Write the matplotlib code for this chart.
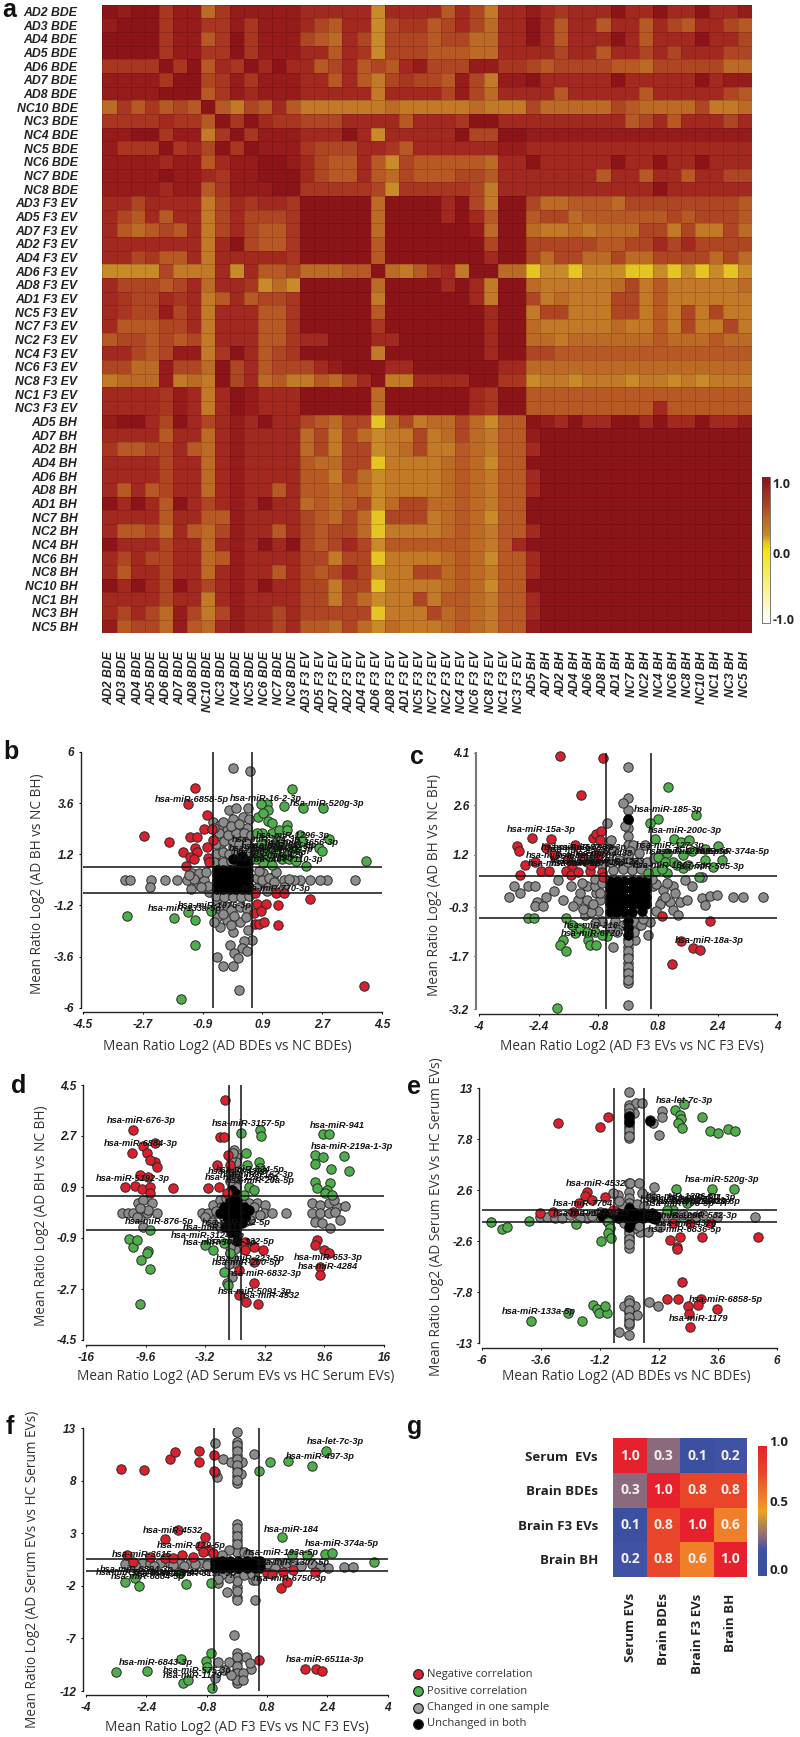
import numpy as np
import matplotlib
matplotlib.use("Agg")
import matplotlib.pyplot as plt
from matplotlib.colors import LinearSegmentedColormap

W, H = 800, 1737
LABEL_FONT = "Liberation Sans"
TEXT_FONT = "Open Sans"

# ---------- panel a: correlation levels read per cell (digit d => r = 0.1*d + 0.1), upper triangle
a_bde_labels = ["AD2 BDE","AD3 BDE","AD4 BDE","AD5 BDE","AD6 BDE","AD7 BDE","AD8 BDE","NC10 BDE","NC3 BDE","NC4 BDE","NC5 BDE","NC6 BDE","NC7 BDE","NC8 BDE"]
a_f3_labels = ["AD3 F3 EV","AD5 F3 EV","AD7 F3 EV","AD2 F3 EV","AD4 F3 EV","AD6 F3 EV","AD8 F3 EV","AD1 F3 EV","NC5 F3 EV","NC7 F3 EV","NC2 F3 EV","NC4 F3 EV","NC6 F3 EV","NC8 F3 EV","NC1 F3 EV","NC3 F3 EV"]
a_bh_labels = ["AD5 BH","AD7 BH","AD2 BH","AD4 BH","AD6 BH","AD8 BH","AD1 BH","NC7 BH","NC2 BH","NC4 BH","NC6 BH","NC8 BH","NC10 BH","NC1 BH","NC3 BH","NC5 BH"]
a_bde_rows = [
 "98996883688888"+"7777717"+"777475277"+"8767779779779778",
 "89996886686888"+"7547715"+"664575377"+"9747747747547754",
 "99996884696888"+"5437515"+"554553377"+"9747779747779775",
 "99996886696888"+"7747615"+"554443377"+"7757747757577755",
 "66669694769797"+"7457454"+"785558866"+"5455554435555533",
 "88886995686888"+"7747425"+"655485288"+"9777779777779788",
 "88887994687888"+"7777727"+"777585377"+"7747777747777754",
 "35364449425474"+"2222223"+"222223222"+"5333335433335223",
 "66667664969766"+"5557777"+"477769977"+"7777777457477757",
 "88996882696888"+"7779717"+"777795599"+"8888888888888888",
 "86669674969888"+"6555776"+"477777788"+"7777777777777777",
 "88887884788998"+"7544741"+"544444377"+"9777779779779777",
 "88889887788999"+"7544743"+"544455477"+"7777747747747755",
 "88887884688899"+"6666651"+"666665277"+"7777777779777777",
]
a_f3_rows = [
 "9999939"+"999795299"+"5334443555555554",
 "9999939"+"999797499"+"4553444444545554",
 "9999939"+"999998399"+"3223233355252253",
 "9999949"+"999999599"+"5555544557575555",
 "9999949"+"999999799"+"5355335335555353",
 "3333493"+"246729933"+"0110111001010101",
 "9999939"+"999797299"+"3222223524222223",
 "9999939"+"999997299"+"5232225524222222",
 "9999949"+"999999799"+"2552225524252522",
 "9999939"+"999999799"+"3222223224252252",
 "6669949"+"999999799"+"3323333334333433",
 "9799939"+"999999799"+"5544444444444444",
 "5577797"+"799997977"+"3333333333333333",
 "3444593"+"377659966"+"1221222122121222",
 "9999939"+"999997499"+"4444444444444444",
 "9999939"+"999997499"+"4444444447444444",
]
a_bh_rows = [
 "9879779979779778","8999999999999999","7999999999999999","9999999999999999",
 "7999999999999999","7999999999999999","9999999999999999","9999999999999999",
 "7999999999999999","9999999999999999","7999999999999999","7999999999999999",
 "9999999999999999","7999999999999999","7999999999999999","8999999999999999",
]

# ---------- panel b
b_red = [(-1.13,4.29),(-1.33,3.55),(-0.76,3.06),(-0.86,2.39),(-0.63,2.37),(-2.67,2.04),(-1.90,1.77),(-1.28,1.99),(-1.08,2.02),(-0.58,1.86),(-1.13,1.48),(-0.76,1.55),(-1.08,1.33),(-1.50,1.33),(-1.27,1.05),(-1.15,0.97),(-0.75,1.02),(-0.70,0.86),(-1.40,0.64),(0.68,-0.64),(0.73,-1.11),(1.0,-1.14),(1.37,-1.19),(2.34,-0.90),(0.66,-1.54),(0.85,-1.47),(0.68,-2.08),(0.81,-2.05),(0.96,-2.0),(1.37,-2.13),(3.97,-5.0),(1.30,-0.60),(1.54,-0.64)]
b_green = [(1.79,4.25),(2.11,3.39),(2.71,3.39),(1.56,3.47),(1.03,3.56),(0.86,3.56),(1.06,3.28),(0.78,2.94),(0.93,3.12),(1.08,2.78),(1.18,2.66),(0.88,2.19),(1.18,2.19),(1.41,2.34),(1.64,2.56),(1.64,2.34),(2.04,2.10),(2.91,1.91),(2.61,1.48),(2.70,1.36),(4.03,0.90),(2.21,0.64),(-3.19,-1.68),(-1.75,-1.78),(-1.33,-1.50),(-1.12,-1.9),(-1.13,-3.06),(-1.54,-5.6),(-0.66,-1.45),(1.0,1.6),(1.5,1.7),(0.93,0.77),(1.18,0.69),
 (0.7,1.0),(0.9,1.2),(1.1,1.1),(1.3,1.3),(1.5,1.0),(0.7,1.5),(0.85,1.7),(1.2,1.55),(1.4,1.8),(1.7,1.3),(1.9,1.5),(2.1,1.8),(0.75,2.2),(1.7,1.0),(1.9,0.9)]
b_gray = [(0.0,5.23),(0.53,5.12),(-0.1,3.28),(0.11,3.37),(0.48,3.36),(0.01,2.84),(0.33,2.96),(0.51,2.84),(-0.58,2.73),(-0.38,2.57),(-0.17,2.34),(0.23,2.34),(0.43,2.42),(-0.48,2.03),(-0.07,2.03),(0.33,1.95),(-0.38,1.56),(0.03,1.56),(-0.17,1.09),(-0.48,0.77),
 (-3.24,0.0),(-3.09,0.0),(-2.44,0.0),(-2.49,-0.32),(-2.04,0.0),(-1.68,0.0),(-1.38,0.0),(-1.23,0.30),(-1.08,-0.17),(-0.88,0.15),(3.70,0.0),(2.84,0.0),(2.64,0.0),(2.34,0.0),(2.04,0.0),(1.84,0.0),(1.54,0.0),(1.23,0.15),(0.93,0.30),(1.03,-0.32),(1.54,-0.32),(0.83,-0.17),(-1.26,-0.45),(-0.7,-0.56),
 (-0.48,-0.95),(-0.17,-1.26),(0.23,-1.26),(-0.48,-1.73),(-0.17,-1.89),(0.23,-1.97),(-0.38,-2.2),(0.03,-2.44),(0.48,-2.36),(0.58,-2.8),(0.36,-2.86),(-0.07,-3.06),(0.28,-3.22),(0.06,-3.45),(0.43,-3.33),(0.16,-3.69),(-0.46,-3.64),(-0.3,-4.02),(0.0,-4.05),(0.19,-5.17),
 (-0.5,1.2),(-0.3,1.3),(-0.1,1.2),(0.1,1.3),(0.3,1.2),(0.5,1.3),(-0.5,1.7),(-0.25,1.8),(0.0,1.8),(0.2,1.7),(0.45,1.7),(-0.4,2.2),(-0.15,2.1),(0.1,2.2),(0.35,2.2),(0.55,2.1),(-0.55,2.45),(-0.3,2.7),(-0.05,2.55),(0.2,2.6),(-0.55,0.85),(-0.3,0.85),(-0.05,0.9),(0.2,0.85),(0.45,0.85),
 (-0.85,0.0),(-1.0,0.3),(-1.15,0.05),(-0.75,-0.3),(-1.3,0.25),(-0.95,-0.35),(-0.8,0.35),(0.75,0.1),(0.9,0.0),(1.1,0.1),(1.25,-0.1),(0.7,-0.4),(1.3,0.35),(1.7,0.05),(1.05,-0.5),(0.8,0.4),(1.45,-0.5),
 (-0.5,-0.75),(-0.25,-0.8),(0.0,-0.8),(0.25,-0.8),(0.5,-0.75),(-0.45,-1.3),(-0.05,-1.4),(0.45,-1.35),(-0.3,-1.6),(0.05,-1.7),(0.4,-1.75),(-0.55,-2.0),(-0.05,-2.1)]
b_black = [(-0.47,0.45),(-0.28,0.45),(-0.09,0.45),(0.09,0.45),(0.28,0.45),(0.47,0.45),(-0.47,0.22),(-0.28,0.22),(-0.09,0.22),(0.09,0.22),(0.28,0.22),(0.47,0.22),(-0.47,0.0),(-0.28,0.0),(-0.09,0.0),(0.09,0.0),(0.28,0.0),(0.47,0.0),(-0.47,-0.22),(-0.28,-0.22),(-0.09,-0.22),(0.09,-0.22),(0.28,-0.22),(0.47,-0.22),(-0.47,-0.45),(-0.28,-0.45),(-0.09,-0.45),(0.09,-0.45),(0.28,-0.45),(0.47,-0.45),(0.0,1.0),(0.3,1.1),(0.5,0.9),(0.25,0.75),(0.45,0.7)]
b_xticks = [-4.5,-2.7,-0.9,0.9,2.7,4.5]
b_yticks = [6,3.6,1.2,-1.2,-3.6,-6]

# ---------- panel c
c_red = [(-1.83,4.0),(-0.67,3.96),(-1.27,2.89),(-2.59,1.68),(-2.07,1.65),(-2.98,1.45),(-2.94,1.29),(-2.77,0.91),(-2.90,0.63),(-2.21,1.38),(-1.43,1.47),(-0.95,1.66),(-0.85,1.78),(-0.73,1.87),(-0.76,1.62),(-2.34,0.74),(-2.12,0.72),(-1.67,0.72),(-1.52,0.62),(-1.34,0.69),(-1.02,0.72),(-0.69,0.69),(-0.67,0.57),(0.92,-0.56),(2.2,-0.69),(1.43,-1.25),(1.73,-1.47),(1.92,-1.51),(1.17,-1.91),
 (-2.5,1.0),(-2.0,1.2),(-1.6,1.1),(-1.2,1.1),(-1.0,0.9),(-0.8,1.2),(-1.5,0.9)]
c_green = [(1.07,3.11),(1.82,2.33),(0.81,2.21),(0.58,2.09),(0.72,1.65),(1.24,1.64),(1.43,1.55),(1.62,1.6),(2.40,1.43),(2.07,1.35),(0.81,1.14),(1.03,1.24),(1.48,1.19),(2.06,1.03),(2.51,1.03),(2.28,0.84),(1.48,0.81),(1.03,0.67),(0.76,0.72),(0.54,0.67),(1.91,0.57),(-2.68,-0.61),(-2.52,-0.62),(-1.68,-0.61),(-1.43,-1.04),(-1.74,-1.23),(-1.83,-1.37),(-1.67,-1.56),(-1.07,-1.23),(-1.02,-1.37),(-0.85,-1.37),(-0.58,-1.13),(-1.9,-3.17),
 (1.2,1.0),(1.0,1.0),(1.7,1.3),(1.3,0.9),(0.9,0.8),(1.6,0.9),(-1.3,-0.9),(-1.5,-0.8),(-0.9,-1.0),(-0.7,-1.1),(-1.1,-1.0)]
c_gray = [(-0.01,3.70),(-0.01,2.80),(-0.01,2.47),(-0.01,2.19),(-0.01,1.95),(-0.01,1.72),(-0.01,1.47),(-0.01,-1.42),(-0.01,-1.66),(-0.01,-1.9),(-0.01,-2.08),(-0.01,-2.27),(-0.01,-2.46),(-0.01,-3.1),
 (-0.13,2.66),(-0.58,2.09),(-0.09,2.0),(-0.47,1.6),(0.45,1.47),(0.14,1.47),(-0.4,1.33),
 (-3.06,0.29),(-3.2,0.0),(-2.9,0.1),(-2.68,0.29),(-2.5,0.29),(-2.45,-0.14),(-2.5,-0.28),(-2.28,-0.28),(-2.19,0.0),(-2.0,0.17),(-1.74,-0.09),(-1.87,0.48),(-1.52,0.29),(-1.34,-0.09),(-1.47,-0.28),(-1.11,0.29),(-0.98,-0.28),(-0.85,0.1),(-1.16,-0.52),(-0.4,-1.44),(0.25,-0.85),(0.54,-1.08),(0.18,-1.23),(0.67,0.29),(0.94,0.19),(1.21,0.29),(1.52,0.48),(1.7,0.29),(1.97,0.57),(0.9,-0.09),(1.12,-0.14),(1.39,-0.14),(1.57,-0.09),(1.97,-0.04),(2.06,-0.23),(2.19,0.03),(2.37,0.05),(2.8,0.0),(3.07,0.0),(3.62,0.0),(1.21,-0.37),(1.34,-0.52),(0.58,-0.71),
 (-0.9,0.3),(-1.1,-0.1),(-0.8,-0.4),(-1.0,-0.45),(-0.75,-0.1),(-1.25,0.4),(-0.9,0.5),(-0.7,0.4),(-1.3,0.1),(-1.2,-0.35),(-0.75,0.1),(-0.95,-0.2),(0.75,0.35),(0.85,-0.2),(1.0,0.0),(0.75,-0.4),(1.25,0.1),(1.05,0.4),(0.65,0.5),
 (-0.4,0.75),(-0.15,0.8),(0.1,0.75),(0.35,0.8),(-0.5,1.0),(-0.25,1.05),(0.0,1.1),(0.25,1.0),(0.5,1.0),(-0.4,1.3),(0.05,1.3),(0.3,1.25),(-0.9,1.2),(-0.7,0.9),(-1.1,1.0),(0.7,1.1),(0.9,0.9),
 (-0.35,-0.7),(-0.15,-0.8),(0.15,-0.7),(0.35,-0.8),(-0.3,-1.0),(0.15,-1.0),(-0.5,-0.9),(-0.7,-0.7),(-0.9,-0.75),(0.4,-0.65),
 (-0.01,1.2),(-0.01,1.0),(-0.01,-1.2),(-0.01,-1.3),(-0.01,-1.55),(-0.01,-1.75),(-0.01,-2.0),(-0.01,-2.17),(-0.01,-2.37)]
c_black = [(-0.49,0.45),(-0.3,0.45),(-0.1,0.45),(0.1,0.45),(0.3,0.45),(0.47,0.45),(-0.49,0.22),(-0.3,0.22),(-0.1,0.22),(0.1,0.22),(0.3,0.22),(0.47,0.22),(-0.49,0.0),(-0.3,0.0),(-0.1,0.0),(0.1,0.0),(0.3,0.0),(0.47,0.0),(-0.49,-0.22),(-0.3,-0.22),(-0.1,-0.22),(0.1,-0.22),(0.3,-0.22),(0.47,-0.22),(-0.49,-0.45),(-0.3,-0.45),(-0.1,-0.45),(0.1,-0.45),(0.37,-0.42),(0.0,2.2),(-0.01,-0.7),(-0.01,-0.9),(-0.01,-1.1)]
c_xticks = [-4,-2.4,-0.8,0.8,2.4,4]
c_yticks = [4.1,2.6,1.2,-0.3,-1.7,-3.2]

# ---------- panel d
d_red = [(-10.91,2.91),(-11.09,2.11),(-9.84,2.35),(-8.58,2.46),(-9.48,2.09),(-8.58,1.79),(-8.4,1.62),(-9.12,1.85),(-10.19,1.32),(-9.3,1.26),(-11.81,0.89),(-10.73,0.94),(-10.01,0.83),(-9.12,0.91),(-6.68,0.88),(-9.12,0.68),(-2.85,0.85),(-1.77,0.91),(-1.05,3.97),(-1.59,2.68),(-1.16,2.65),(-0.7,2.03),(-1.95,1.68),(-0.52,1.68),(-0.87,0.68),(8.8,-0.97),(8.62,-1.15),(9.52,-1.32),(10.06,-1.44),(9.16,-1.91),(9.16,-2.21),(1.1,-1.03),(1.99,-1.21),(1.1,-1.32),(2.96,-1.32),(1.99,-1.74),(0.38,-2.03),(1.99,-2.48),(0.38,-2.91),(1.2,-3.15),(2.46,-3.23)]
d_green = [(9.45,2.76),(10.13,2.76),(11.67,2.01),(8.62,2.03),(9.45,1.95),(8.62,1.71),(10.31,1.54),(12.21,1.46),(8.62,1.06),(10.16,1.03),(8.8,0.85),(9.88,0.79),(9.7,0.68),(10.42,0.62),(-9.12,-0.62),(-11.38,-0.95),(-10.91,-1.21),(-10.48,-0.97),(-9.3,-1.36),(-9.41,-1.42),(-10.12,-1.68),(-9.12,-1.99),(-10.19,-3.24),(0.67,2.82),(2.71,2.91),(2.78,2.7),(1.2,2.11),(2.53,1.79),(2.71,1.56),(1.28,1.68),(1.46,0.91),(1.99,0.79),(0.92,0.62),(-3.2,-1.15),(-2.31,-1.32),(-1.23,-1.09),(-0.52,-1.44),(-1.23,-2.11),(-0.8,-2.56)]
d_gray = [(-12.16,0.0),(-11.45,0.0),(-10.91,-0.03),(-10.37,0.32),(-9.84,0.44),(-8.94,0.32),(-10.19,-0.15),(-9.48,0.0),(-8.4,0.0),(-9.84,-0.5),(-10.55,-0.15),(-9.3,0.08),(-10.19,0.15),
 (8.27,0.32),(9.16,0.26),(10.06,0.32),(10.95,0.21),(11.78,0.24),(8.27,0.0),(9.16,0.0),(10.06,0.0),(10.77,0.03),(8.62,-0.32),(9.34,-0.38),(10.24,-0.56),(11.31,-0.26),(10.6,0.44),
 (-3.56,0.0),(-2.85,0.0),(-2.31,0.26),(-1.95,-0.03),(-3.2,-0.15),(-2.31,-0.38),(-1.59,0.44),(-0.16,2.21),(0.2,1.97),(-0.34,1.5),(0.2,1.15),(-0.52,0.68),(0.56,0.44),(1.46,0.32),(2.35,0.32),(3.25,0.26),(3.07,0.0),(3.96,0.0),(1.99,0.0),(5.51,0.0),(1.63,-0.26),(0.2,-0.97),(-0.52,-1.44),(0.02,-1.79),(-0.34,-2.26),(-0.87,-2.5),(-0.16,-0.5),(-1.59,-0.5),
 (-1.5,0.2),(-1.2,-0.2),(-0.8,0.3),(-0.5,-0.3),(-0.3,0.1),(0.1,0.3),(0.5,-0.1),(0.8,0.3),(1.2,-0.3),(2.0,0.2),(2.7,-0.1),(-0.3,0.9),(-0.2,1.2),(0.1,0.9),(-0.5,1.1),(-0.1,1.6),(0.1,1.8),(-0.4,1.9),(-0.2,2.1),(0.1,-0.8),(-0.3,-1.0),(0.0,-1.3),(-0.5,-1.2),(-0.2,-1.6),(-0.6,-1.8),(-2.5,-0.35),(-2.0,0.05),(-1.0,0.5),(0.4,0.6)]
d_black = [(-1.23,0.21),(-0.52,0.44),(0.2,0.44),(0.92,0.21),(1.46,0.09),(-0.87,-0.15),(-0.16,0.09),(0.56,-0.15),(1.1,-0.15),(-0.52,-0.38),(0.02,-0.5),(0.38,0.21),(-0.16,0.5),(-1.59,-0.03),(-1.05,-0.5),(0.74,-0.38),(-0.3,0.2),(0.1,-0.2),
 (-0.5,0.0),(0.2,0.0),(0.5,0.2),(-0.2,-0.3),(-0.8,0.1),(0.0,0.7),(-0.3,0.8),(0.3,-0.4),(0.0,-0.7),(-0.4,-0.7),(0.2,-1.0)]
d_xticks = [-16,-9.6,-3.2,3.2,9.6,16]
d_yticks = [4.5,2.7,0.9,-0.9,-2.7,-4.5]

# ---------- panel e
e_red = [(-2.88,9.5),(-1.17,9.06),(-0.87,10.08),(-1.73,2.46),(-1.8,2.02),(-0.98,1.95),(-1.5,1.61),(-2.04,1.27),(-3.63,0.32),(-3.08,0.36),(-2.27,0.36),(-0.64,0.59),(1.66,-2.47),(2.07,-2.19),(1.93,-3.15),(1.96,-3.38),(2.96,-2.13),(5.23,-2.13),(2.16,-6.71),(1.53,-8.48),(2.0,-8.48),(2.92,-8.48),(2.38,-9.2),(2.81,-9.09),(3.57,-9.47),(2.45,-10.01),(2.49,-11.3),(2.47,-0.77),(3.29,-0.77),(1.8,-0.77)]
e_green = [(1.88,10.79),(2.23,11.37),(2.07,10.28),(2.09,9.87),(1.97,9.43),(2.14,8.92),(2.95,10.08),(3.3,8.65),(3.61,8.48),(4.01,8.89),(4.31,8.62),(1.89,2.7),(3.38,2.7),(4.25,2.7),(2.34,1.27),(1.8,0.59),(1.53,0.59),(-5.63,-0.6),(-5.19,-1.34),(-4.98,-1.11),(-4.06,-0.49),(-2.18,-0.87),(-0.85,-0.6),(-0.78,-1.28),(-0.85,-1.79),(-0.75,-2.3),(-1.16,-2.6),(-1.46,-9.09),(-1.32,-9.5),(-1.21,-9.94),(-0.92,-9.88),(-0.98,-9.2),(-1.93,-10.73),(-4.0,-10.73),(-2.47,-9.88)]
e_gray = [(-0.01,12.66),(-0.01,11.3),(-0.01,10.79),(-0.01,10.28),(-0.01,9.77),(-0.01,9.09),(-0.01,8.41),(-0.01,7.9),(-0.01,3.31),(-0.01,2.46),(-0.01,1.78),(-0.01,-1.45),(-0.01,-2.13),(-0.01,-2.64),(-0.01,-3.32),(-0.01,-8.58),(-0.01,-9.26),(-0.01,-9.94),(-0.01,-10.62),(-0.01,-11.13),
 (0.28,11.47),(0.51,11.54),(0.18,10.45),(0.85,9.77),(0.98,9.43),(1.32,10.69),(1.35,10.04),(1.23,8.24),(-0.4,-11.81),(-0.01,-12.15),(-0.21,-9.16),(0.24,-9.2),(0.31,-10.11),(0.81,-8.82),(1.19,-9.2),(0.03,3.31),(0.41,3.31),(0.51,2.29),(1.02,2.94),(-0.44,2.12),(-3.63,-0.15),(-3.36,-0.09),(-3.02,-0.19),(-2.72,-0.19),(-2.41,0.08),(-1.73,-0.26),(-1.19,-0.09),(1.25,-0.09),(2.2,-0.09),(3.56,-0.09),(5.13,-0.09),(0.44,-1.62),(0.78,-1.62),(0.24,-1.28),(1.25,-1.11),(-0.64,2.29),(0.92,1.95),
 (-1.0,0.1),(-1.5,0.0),(-2.0,-0.2),(-0.9,-0.5),(-1.2,0.4),(1.0,0.0),(1.2,-0.4),(1.5,0.1),(1.8,-0.3),(2.2,0.2),(2.7,-0.1),(3.0,0.1),(0.0,1.3),(0.0,0.9),(0.3,1.2),(-0.3,1.1),(-0.4,1.5),(0.6,1.0),(0.0,-0.9),(0.2,-0.8),(-0.2,-0.7),(0.4,-1.0),(-0.01,-1.8),(-0.01,-2.4),(-0.01,-2.9),
 (-0.01,11.0),(-0.01,10.5),(-0.01,10.0),(-0.01,9.4),(-0.01,8.7),(-0.01,8.1),(-0.01,-8.9),(-0.01,-9.6),(-0.01,-10.3),(-0.01,-10.9)]
e_black = [(-0.78,0.32),(-0.44,0.32),(-0.1,0.32),(0.24,0.32),(0.58,0.32),(0.92,0.32),(-0.78,-0.26),(-0.44,-0.26),(-0.1,-0.26),(0.24,-0.26),(0.58,-0.26),(0.92,-0.26),(-0.01,-1.1),(-0.01,10.2),(-0.01,9.6),(0.85,9.7),
 (-0.6,0.0),(-0.3,0.0),(0.0,0.0),(0.3,0.0),(0.6,0.0),(0.9,0.0),(-1.1,0.0),(1.1,0.0),(-1.0,0.3),(1.05,-0.3),(-0.01,0.8),(0.02,-0.7)]
e_xticks = [-6,-3.6,-1.2,1.2,3.6,6]
e_yticks = [13,7.8,2.6,-2.6,-7.8,-13]

# ---------- panel f
f_red = [(-3.07,9.13),(-2.45,9.0),(-1.76,10.11),(-1.65,10.72),(-1.0,10.87),(-1.01,9.8),(-0.6,10.46),(-0.61,8.97),(-1.55,3.32),(-1.91,2.5),(-0.84,2.69),(-0.98,1.83),(-0.76,1.42),(-0.89,1.26),(-0.62,1.1),(-1.46,0.94),(-2.92,0.94),(-2.76,0.31),(-2.3,0.79),(-1.15,0.79),(-1.9,0.63),(-1.68,0.63),(0.6,-9.05),(1.82,-9.87),(2.09,-9.87),(2.27,-10.06),(1.17,-2.23),(0.79,-0.8),(0.92,-0.86),(1.23,-0.64),(1.32,-1.59),(1.5,-0.48),(2.07,-0.64)]
f_green = [(2.37,10.84),(1.98,9.42),(1.35,9.92),(0.87,9.83),(0.58,8.97),(1.2,2.63),(2.34,1.01),(2.53,1.1),(3.63,0.28),(1.85,0.94),(1.46,0.94),(-2.97,-1.59),(-2.7,-1.28),(-2.59,-1.97),(-1.35,-1.82),(-0.69,-1.69),(-1.51,-0.8),(-3.2,-10.22),(-2.38,-10.1),(-1.48,-8.92),(-0.83,-9.11),(-0.69,-8.42),(-1.42,-11.27),(-1.29,-10.95),(-0.67,-11.75),(-0.8,-9.68)]
f_gray = [(0.0,12.68),(0.0,11.73),(0.0,11.1),(0.0,10.46),(0.0,9.83),(0.0,9.19),(0.0,8.46),(0.0,7.83),(0.0,3.89),(0.0,3.16),(0.0,2.37),(0.0,1.74),(0.0,1.26),(0.0,-1.12),(0.0,-2.07),(0.0,-3.02),(0.0,-3.34),(0.0,-8.42),(0.0,-9.21),(0.0,-10.0),(0.0,-10.64),(0.0,-11.27),
 (-0.57,11.57),(-0.38,10.11),(-0.16,9.76),(0.13,9.76),(0.46,10.56),(-0.52,8.34),(-0.58,8.88),(0.11,8.65),(-0.07,-6.67),(-0.49,-9.21),(-0.2,-9.21),(0.24,-8.8),(0.37,-9.94),(-0.58,-10.79),(-0.27,-2.55),(-0.49,-1.75),(0.48,-3.34),(-2.97,0.09),(-2.52,0.15),(-2.3,0.15),(-2.04,0.15),(-1.77,0.15),(-1.51,0.15),(-1.24,0.15),(-0.98,0.15),(-0.76,0.15),(2.43,-0.32),(2.83,-0.17),(3.07,-0.17),(0.66,0.15),(1.06,0.15),(1.5,-0.01),(0.44,-1.44),
 (0.0,11.4),(0.0,10.8),(0.0,10.1),(0.0,9.5),(0.0,8.8),(0.0,8.1),(0.0,3.5),(0.0,2.75),(0.0,2.0),(0.0,-1.5),(0.0,-2.5),(0.0,-8.8),(0.0,-9.6),(0.0,-10.3),(0.0,-11.0),
 (-0.8,0.0),(-1.1,0.1),(-1.4,-0.1),(-1.7,-0.05),(-2.2,-0.1),(-2.7,0.0),(0.8,0.1),(1.0,-0.3),(1.3,0.2),(1.7,-0.1),(2.0,0.1),(2.2,-0.2),(0.2,-1.0),(-0.2,-1.2),(-0.4,-0.9),(0.4,-0.9),(0.2,1.2),(-0.2,1.4),(0.3,1.0),(-0.4,0.9),(0.5,-1.4),(-0.5,-1.3),(0.35,-9.3),(-0.35,-10.0),(0.17,-10.3),(0.17,-11.0),(-0.15,-10.5)]
f_black = [(-0.58,0.4),(-0.4,0.4),(-0.18,0.4),(0.04,0.4),(0.26,0.4),(0.48,0.4),(0.61,0.4),(-0.58,-0.26),(-0.4,-0.26),(-0.18,-0.26),(0.04,-0.26),(0.26,-0.26),(0.48,-0.26),(0.61,-0.26),
 (-0.58,0.07),(-0.4,0.07),(-0.18,0.07),(0.04,0.07),(0.26,0.07),(0.48,0.07),(0.61,0.07)]
f_xticks = [-4,-2.4,-0.8,0.8,2.4,4]
f_yticks = [13,8,3,-2,-7,-12]

# ---------- panel g
g_labels_y = ["Serum  EVs","Brain BDEs","Brain F3 EVs","Brain BH"]
g_labels_x = ["Serum EVs","Brain BDEs","Brain F3 EVs","Brain BH"]
g_values = [[1.0,0.3,0.1,0.2],[0.3,1.0,0.8,0.8],[0.1,0.8,1.0,0.6],[0.2,0.8,0.6,1.0]]

legend_labels = ["Negative correlation","Positive correlation","Changed in one sample","Unchanged in both"]

RED, GREEN, GRAY = "#d9202c", "#4fae4b", "#8c8c8c"
plt.rcParams["font.family"] = [TEXT_FONT, "DejaVu Sans"]
fig = plt.figure(figsize=(W/100, H/100), dpi=100)

def px_axes(l, r, t, b, **kw):
    return fig.add_axes([l/W, 1-b/H, (r-l)/W, (b-t)/H], **kw)

overlay = fig.add_axes([0, 0, 1, 1], zorder=10)
overlay.set_xlim(0, W); overlay.set_ylim(H, 0); overlay.axis("off")

# ---- panel a
labels_a = a_bde_labels + a_f3_labels + a_bh_labels
n = len(labels_a)
mat = np.ones((n, n))
for rows, first in ((a_bde_rows, 0), (a_f3_rows, 14), (a_bh_rows, 30)):
    for k, s in enumerate(rows):
        i = first + k
        for c, ch in enumerate(s):
            j = first + c
            if j >= i:
                v = 0.1*int(ch) + 0.1
                mat[i, j] = v
                mat[j, i] = v
for i in range(n):
    mat[i, i] = 1.0

cmap_a = LinearSegmentedColormap.from_list("a", [
    (0.0, "#ffffff"), (0.5, "#f2e312"), (0.55, "#e4c424"), (0.6, "#c98a2a"), (0.65, "#c27a29"),
    (0.7, "#bc6c27"), (0.75, "#b65a25"), (0.8, "#ae4523"), (0.85, "#a83621"), (0.9, "#a22a20"),
    (0.95, "#971c1c"), (1.0, "#8b1419")], N=256)
ax = px_axes(102.5, 751.7, 4.7, 633.3)
mesh = ax.pcolormesh(np.arange(n+1), np.arange(n+1), mat, cmap=cmap_a, vmin=-1, vmax=1,
                     edgecolors=(0.25, 0, 0, 0.18), linewidth=0.4)
ax.set_ylim(n, 0); ax.set_xlim(0, n)
ax.set_xticks(np.arange(n)+0.5, labels_a, rotation=90, family=LABEL_FONT, weight="bold", style="italic", fontsize=8.8, color="#222222")
ax.set_yticks(np.arange(n)+0.5, labels_a, family=LABEL_FONT, weight="bold", style="italic", fontsize=8.8, color="#222222")
ax.tick_params(axis="x", length=0, pad=13)
ax.tick_params(axis="y", length=0, pad=18)
for sp in ax.spines.values():
    sp.set_visible(False)
cax = px_axes(762, 770, 477, 623)
cb = fig.colorbar(mesh, cax=cax)
cb.set_ticks([]); cb.outline.set_linewidth(0.5); cb.outline.set_edgecolor("#444444")
for t, y in (("1.0", 485), ("0.0", 555), ("-1.0", 621)):
    overlay.text(772.5, y, t, fontsize=9, weight="bold", color="#222222", va="center", ha="left")

# ---- scatter panels
def scatter_panel(l, r, t, b, left_off, bot_off, xr, yr, xticks, yticks, gray, black, red, green, thrx, thry, left_color="#222222", left_w=1.0):
    ax = px_axes(l, r, t, b)
    ax.set_xlim(*xr); ax.set_ylim(*yr)
    ax.patch.set_alpha(0)
    for sp in ("top", "right"):
        ax.spines[sp].set_visible(False)
    ax.spines["left"].set_position(("outward", left_off*0.72))
    ax.spines["bottom"].set_position(("outward", bot_off*0.72))
    ax.spines["left"].set_color(left_color); ax.spines["left"].set_linewidth(left_w)
    ax.spines["bottom"].set_color("#222222"); ax.spines["bottom"].set_linewidth(1.0)
    ax.set_xticks(xticks, [f"{v:g}" for v in xticks], family=LABEL_FONT, weight="bold", style="italic", fontsize=8.5, color="#222222")
    ax.set_yticks(yticks, [f"{v:g}" for v in yticks], family=LABEL_FONT, weight="bold", style="italic", fontsize=8.5, color="#222222")
    ax.tick_params(axis="both", length=1.5, width=0.7, pad=3.5)
    for pts, col, edge, z in ((gray, GRAY, "#2a2a2a", 2), (black, "black", "black", 3), (red, RED, "#2a2a2a", 4), (green, GREEN, "#2a2a2a", 4)):
        arr = np.array(pts)
        ax.scatter(arr[:, 0], arr[:, 1], s=46, c=col, edgecolors=edge, linewidths=0.7, zorder=z, clip_on=False)
    for v in thrx:
        ax.axvline(v, color="#111111", lw=1.1, zorder=5)
    for v in thry:
        ax.axhline(v, color="#111111", lw=1.1, zorder=5)
    return ax

scatter_panel(83, 382, 752, 1007.7, 2, 4, (-4.5, 4.5), (-6, 6), b_xticks, b_yticks, b_gray, b_black, b_red, b_green, (-0.6, 0.6), (0.6, -0.6))
scatter_panel(479, 777.3, 752.7, 1009, 3, 4.7, (-4, 4), (-3.2, 4.1), c_xticks, c_yticks, c_gray, c_black, c_red, c_green, (-0.6, 0.6), (0.6, -0.6), left_color="#777777", left_w=1.5)
scatter_panel(86, 384, 1085, 1340, 2.7, 4.7, (-16, 16), (-4.5, 4.5), d_xticks, d_yticks, d_gray, d_black, d_red, d_green, (-0.6, 0.6), (0.6, -0.6))
scatter_panel(481.7, 776.7, 1088.3, 1343.3, 2.4, 5, (-6, 6), (-13, 13), e_xticks, e_yticks, e_gray, e_black, e_red, e_green, (-0.6, 0.6), (0.6, -0.6))
scatter_panel(86, 387.7, 1428.3, 1691, 3, 4, (-4, 4), (-12, 13), f_xticks, f_yticks, f_gray, f_black, f_red, f_green, (-0.6, 0.6), (0.6, -0.6))

# ---- miRNA labels, placed by crop position relative to each panel's corner
def mir(ox, oy, items):
    for cx, cy, s in items:
        overlay.text(ox + cx/3, oy + cy/3, s, family=LABEL_FONT, weight="bold", style="italic",
                     fontsize=6.7, color="#111111", ha="center", va="center")

mir(0, 730, [(576,207,"hsa-miR-6858-5p"),(797,205,"hsa-miR-16-2-3p"),(980,219,"hsa-miR-520g-3p"),
             (880,318,"hsa-miR-1296-3p"),(905,337,"hsa-miR-3656-3p"),(835,350,"hsa-miR-200c-3p"),(810,368,"hsa-miR-4326-3p"),
             (860,388,"hsa-miR-7110-3p"),(830,475,"hsa-miR-770-3p"),(555,535,"hsa-miR-133a-5p"),(645,528,"hsa-miR-1976-3p"),
             (800,330,"hsa-miR-204-3p"),(850,345,"hsa-miR-511-3p"),(790,355,"hsa-miR-708-3p"),(830,378,"hsa-miR-429"),
             (845,360,"hsa-miR-31-3p"),(790,385,"hsa-miR-1290")])
mir(400, 730, [(805,240,"hsa-miR-185-3p"),(855,302,"hsa-miR-200c-3p"),(425,298,"hsa-miR-15a-3p"),
               (1000,365,"hsa-miR-374a-5p"),(850,365,"hsa-miR-1296-5p"),(880,365,"hsa-miR-3656-3p"),(810,345,"hsa-miR-127-3p"),
               (930,410,"hsa-miR-505-3p"),(810,405,"hsa-miR-1307-5p"),(927,632,"hsa-miR-18a-3p"),
               (535,352,"hsa-miR-3687-3p"),(490,378,"hsa-miR-4532-3p"),(495,402,"hsa-miR-6848-3p"),(610,398,"hsa-miR-7150-3p"),(565,400,"hsa-miR-1275-3p"),(570,352,"hsa-miR-3960-3p"),
               (530,360,"hsa-miR-4508"),(560,378,"hsa-miR-6087"),(610,372,"hsa-miR-4488"),(540,392,"hsa-miR-1246"),(645,395,"hsa-miR-1273"),
               (595,585,"hsa-miR-218-3p"),(595,612,"hsa-miR-6720-3p")])
mir(0, 1040, [(425,242,"hsa-miR-676-3p"),(423,310,"hsa-miR-6884-3p"),(400,416,"hsa-miR-5192-3p"),(478,543,"hsa-miR-876-5p"),
              (747,251,"hsa-miR-3157-5p"),(1013,255,"hsa-miR-941"),(1057,320,"hsa-miR-219a-1-3p"),(986,652,"hsa-miR-653-3p"),
              (985,680,"hsa-miR-4284"),(795,702,"hsa-miR-6832-3p"),(765,755,"hsa-miR-5091-3p"),(810,766,"hsa-miR-4532"),
              (752,655,"hsa-miR-223-5p"),(740,667,"hsa-miR-200-5p"),(750,390,"hsa-miR-324-5p"),(770,404,"hsa-miR-7162-3p"),
              (780,422,"hsa-miR-20a-5p"),(720,605,"hsa-miR-132-5p"),(710,548,"hsa-miR-652-5p"),(640,562,"hsa-miR-3615"),(625,585,"hsa-miR-3124-5p"),
              (715,395,"hsa-miR-4328"),(725,412,"hsa-miR-1285-5p"),(660,608,"hsa-miR-5010-3p")])
mir(400, 1040, [(853,182,"hsa-let-7c-3p"),(965,420,"hsa-miR-520g-3p"),(588,430,"hsa-miR-4532"),(550,491,"hsa-miR-7704"),
                (418,816,"hsa-miR-133a-5p"),(978,778,"hsa-miR-6858-5p"),(895,835,"hsa-miR-1179"),(850,470,"hsa-miR-1296-5p"),
                (870,485,"hsa-miR-3156-3p"),(885,483,"hsa-miR-7110-3p"),(910,525,"hsa-miR-532-3p"),(855,568,"hsa-miR-6836-5p"),
                (600,520,"hsa-miR-3615"),(830,478,"hsa-miR-200c-3p"),(905,473,"hsa-miR-511-3p"),(840,490,"hsa-miR-708-3p"),(920,485,"hsa-miR-429-3p"),
                (820,525,"hsa-miR-1290"),(860,550,"hsa-miR-4326"),(550,520,"hsa-miR-1273")])
mir(0, 1400, [(1005,124,"hsa-let-7c-3p"),(962,170,"hsa-miR-497-3p"),(873,387,"hsa-miR-184"),(1025,432,"hsa-miR-374a-5p"),
              (520,391,"hsa-miR-4532"),(573,437,"hsa-miR-129-5p"),(425,463,"hsa-miR-3615"),(847,457,"hsa-miR-193a-5p"),
              (880,487,"hsa-miR-1307-5p"),(870,535,"hsa-miR-6750-3p"),(410,510,"hsa-miR-6804-3p"),(400,518,"hsa-miR-6848-3p"),
              (445,530,"hsa-miR-6884-5p"),(600,522,"hsa-miR-3157-3p"),(468,787,"hsa-miR-6843-3p"),(592,812,"hsa-miR-575-3p"),
              (578,825,"hsa-miR-1179"),(975,778,"hsa-miR-6511a-3p"),(490,522,"hsa-miR-1273"),(540,518,"hsa-miR-4508")])

# ---- axis titles
def title(x, y, s, rot=0):
    overlay.text(x, y, s, fontsize=9.8, color="#333333", ha="center", va="center", rotation=rot)

title(227.5, 1046.7, "Mean Ratio Log2 (AD BDEs vs NC BDEs)")
title(38, 884, "Mean Ratio Log2 (AD BH vs NC BH)", 90)
title(631.7, 1046.7, "Mean Ratio Log2 (AD F3 EVs vs NC F3 EVs)")
title(435, 885, "Mean Ratio Log2 (AD BH Vs NC BH)", 90)
title(236, 1377, "Mean Ratio Log2 (AD Serum EVs vs HC Serum EVs)")
title(41.7, 1216, "Mean Ratio Log2 (AD BH vs NC BH)", 90)
title(626, 1377, "Mean Ratio Log2 (AD BDEs vs NC BDEs)")
title(437, 1216.7, "Mean Ratio Log2 (AD Serum EVs Vs HC Serum EVs)", 90)
title(236.7, 1727.7, "Mean Ratio Log2 (AD F3 EVs vs NC F3 EVs)")
title(33, 1569, "Mean Ratio Log2 (AD Serum EVs vs HC Serum EVs)", 90)

# ---- panel letters
for s, x, y in (("a",2,10),("b",3,752),("c",410,757),("d",11,1086),("e",407,1087),("f",6,1427),("g",407,1427)):
    overlay.text(x, y, s, family=LABEL_FONT, weight="bold", fontsize=18, color="#111111", ha="left", va="center")

# ---- panel g
cmap_g = LinearSegmentedColormap.from_list("g", [
    (0.0, "#3a4ea2"), (0.2, "#3f52a3"), (0.3, "#8d6a7c"), (0.4, "#b48a4a"), (0.5, "#f1a21e"),
    (0.6, "#f07f2a"), (0.8, "#e8452a"), (1.0, "#e6202c")])
ax = px_axes(613.3, 747.3, 1438.3, 1576.7)
vals = np.array(g_values)
m = ax.pcolormesh(np.arange(5), np.arange(5), vals, cmap=cmap_g, vmin=0, vmax=1)
ax.set_ylim(4, 0); ax.set_xlim(0, 4)
ax.set_xticks(np.arange(4)+0.5, g_labels_x, rotation=90, fontsize=9.5, weight="bold", color="#222222")
ax.set_yticks(np.arange(4)+0.5, g_labels_y, fontsize=9.5, weight="bold", color="#222222")
ax.tick_params(axis="x", length=0, pad=12)
ax.tick_params(axis="y", length=0, pad=11)
for sp in ax.spines.values():
    sp.set_visible(False)
for i in range(4):
    for j in range(4):
        ax.text(j+0.5, i+0.5, f"{vals[i, j]:.1f}", color="#f4efe8", weight="bold", fontsize=10, ha="center", va="center")
cax = px_axes(758, 767, 1445.7, 1575.7)
cb = fig.colorbar(m, cax=cax)
cb.set_ticks([]); cb.outline.set_visible(False)
for t, y in (("1.0", 1443), ("0.5", 1503), ("0.0", 1571)):
    overlay.text(769, y, t, fontsize=9.5, weight="bold", color="#222222", va="center", ha="left")

# ---- legend
for s, col, y in zip(legend_labels, (RED, GREEN, "#a0a0a0", "black"), (1674, 1691, 1707.5, 1723.5)):
    overlay.scatter([417.5], [y], s=48, c=col, edgecolors="#222222", linewidths=0.9)
    overlay.text(427, y, s, fontsize=8, color="#333333", va="center", ha="left")

fig.savefig("out.png", dpi=100)
